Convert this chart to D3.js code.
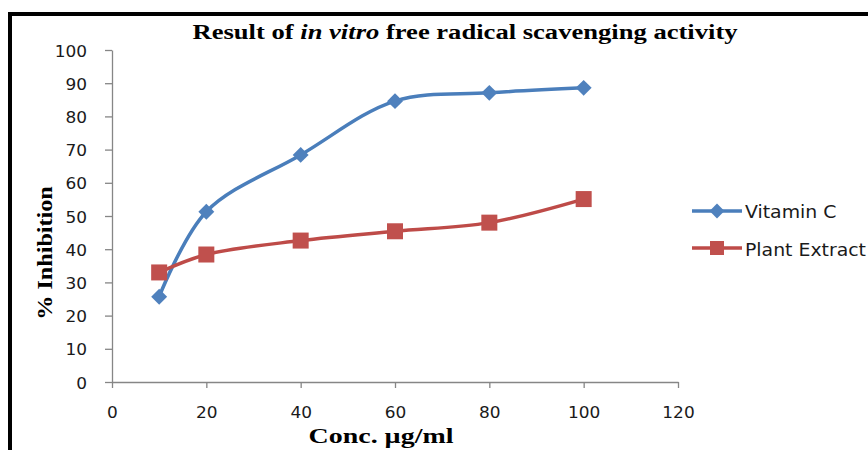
<!DOCTYPE html>
<html><head><meta charset="utf-8">
<script src="https://cdn.jsdelivr.net/npm/d3@7"></script>
<style>html,body{margin:0;padding:0;background:#fff;}svg{display:block;}</style>
</head><body>
<svg id="chart" width="868" height="450"></svg>
<script>
const concentrations = [10, 20, 40, 60, 80, 100];
const vitaminC = [25.7, 51.3, 68.4, 84.6, 87.1, 88.6];
const plantExtract = [33.0, 38.4, 42.6, 45.4, 48.0, 55.1];
const seriesNames = ["Vitamin C", "Plant Extract"];
const xTicks = [0, 20, 40, 60, 80, 100, 120];
const yTicks = [0, 10, 20, 30, 40, 50, 60, 70, 80, 90, 100];

const svg = d3.select("#chart");
const axisColor = "#868686";
const blue = "#4A7EBB", blueM = "#4F81BD";
const red = "#BE4B48", redM = "#C0504D";
const sans = "'DejaVu Sans', sans-serif";
const serif = "'Liberation Serif', 'Times New Roman', serif";

// frame
svg.append("rect").attr("x", 10).attr("y", 14).attr("width", 870).attr("height", 450)
  .attr("fill", "none").attr("stroke", "#000").attr("stroke-width", 4);

const x = d3.scaleLinear().domain([0, 120]).range([112, 678]);
const y = d3.scaleLinear().domain([0, 100]).range([382, 50]);

const gx = svg.append("g").attr("transform", "translate(0,382)")
  .call(d3.axisBottom(x).tickValues(xTicks).tickSize(6).tickSizeOuter(0).tickPadding(19));
const gy = svg.append("g").attr("transform", "translate(112,0)")
  .call(d3.axisLeft(y).tickValues(yTicks).tickSize(7).tickSizeOuter(0).tickPadding(0));
[gx, gy].forEach(g => {
  g.select(".domain").attr("stroke", axisColor).attr("stroke-width", 1.3);
  g.selectAll(".tick line").attr("stroke", axisColor).attr("stroke-width", 1.3);
});
// stretched tick labels
gx.selectAll(".tick text").each(function() {
  const t = d3.select(this);
  t.attr("font-family", sans).attr("font-size", 15).attr("fill", "#1a1a1a")
   .attr("transform", "scale(1.13,1)");
});
gy.selectAll(".tick text").each(function() {
  const t = d3.select(this);
  t.attr("x", 0).attr("dy", "0.4em").attr("font-family", sans).attr("font-size", 15).attr("fill", "#1a1a1a")
   .attr("transform", "translate(-25,0) scale(1.13,1)");
});

const line = d3.line().x((d, i) => x(concentrations[i])).y(d => y(d)).curve(d3.curveCatmullRom.alpha(0.5));

const data = [
  {name: seriesNames[0], values: vitaminC, color: blue, mcolor: blueM, marker: "diamond"},
  {name: seriesNames[1], values: plantExtract, color: red, mcolor: redM, marker: "square"}
];

function drawMarker(g, type, cx, cy, color, s) {
  if (type === "diamond") {
    const h = s * 0.53;
    g.append("path").attr("d", `M${cx},${cy-h}L${cx+h},${cy}L${cx},${cy+h}L${cx-h},${cy}Z`).attr("fill", color);
  } else {
    const h = s / 2;
    g.append("rect").attr("x", cx - h).attr("y", cy - h).attr("width", s).attr("height", s).attr("fill", color);
  }
}

data.forEach(s => {
  svg.append("path").attr("d", line(s.values)).attr("fill", "none")
    .attr("stroke", s.color).attr("stroke-width", 3.5);
});
data.forEach(s => {
  const g = svg.append("g");
  s.values.forEach((v, i) => drawMarker(g, s.marker, x(concentrations[i]), y(v), s.mcolor, s.marker === "diamond" ? 15 : 16));
});

// legend
const legendY = [211, 248];
const legendBase = [218, 256];
data.forEach((s, i) => {
  const ly = legendY[i];
  svg.append("line").attr("x1", 692).attr("x2", 742).attr("y1", ly).attr("y2", ly)
    .attr("stroke", s.color).attr("stroke-width", 3.5);
  drawMarker(svg, s.marker, 717, ly, s.mcolor, 14);
  svg.append("text").attr("transform", `translate(745,${legendBase[i]}) scale(1.11,1)`).text(s.name)
    .attr("font-family", sans).attr("font-size", 17).attr("fill", "#1a1a1a");
});

// title
const title = svg.append("text").attr("transform", "translate(465,39) scale(1.33,1)").attr("text-anchor", "middle")
  .attr("font-family", serif).attr("font-weight", "bold")
  .attr("font-size", 20).attr("fill", "#000");
title.append("tspan").text("Result of ");
title.append("tspan").attr("font-style", "italic").text("in vitro");
title.append("tspan").text(" free radical scavenging activity");

svg.append("text").attr("transform", "translate(381,443) scale(1.27,1)").attr("text-anchor", "middle")
  .attr("font-family", serif).attr("font-weight", "bold")
  .attr("font-size", 22).attr("fill", "#000").text("Conc. µg/ml");

svg.append("text").attr("transform", "translate(52,253) rotate(-90) scale(1.15,1)").attr("text-anchor", "middle")
  .attr("font-family", serif).attr("font-weight", "bold")
  .attr("font-size", 21).attr("fill", "#000").text("% Inhibition");
</script>
</body></html>
